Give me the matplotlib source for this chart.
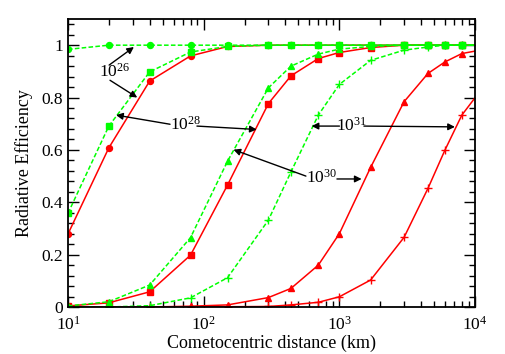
import matplotlib
matplotlib.use("Agg")
import matplotlib.pyplot as plt
from matplotlib.ticker import LogLocator, MultipleLocator, NullFormatter

plt.rcParams['font.family'] = ['Liberation Serif', 'DejaVu Serif']
plt.rcParams['mathtext.fontset'] = 'custom'
plt.rcParams['mathtext.rm'] = 'Liberation Serif'
plt.rcParams['mathtext.it'] = 'Liberation Serif:italic'

# distances (km); last point lies beyond the axis and is clipped
dist = [10, 20, 40, 80, 150, 300, 440, 700, 1000, 1700, 3000, 4500, 6000, 8000, 12000]

# red (solid) series
red_q26 = [0.279, 0.608, 0.863, 0.959, 0.995, 1.0, 1.0, 1.0, 1.0, 1.0, 1.0, 1.0, 1.0, 1.0, 1.0]
red_q28 = [0.004, 0.016, 0.058, 0.198, 0.466, 0.777, 0.883, 0.949, 0.972, 0.991, 1.0, 1.0, 1.0, 1.0, 1.0]
red_q30 = [0.0, 0.0, 0.0, 0.003, 0.008, 0.036, 0.071, 0.160, 0.280, 0.533, 0.784, 0.892, 0.936, 0.968, 0.985]
red_q31 = [0.0, 0.0, 0.0, 0.0, 0.001, 0.002, 0.008, 0.018, 0.039, 0.103, 0.266, 0.453, 0.599, 0.733, 0.853]

# green (dashed) series
grn_q26 = [0.984, 1.0, 1.0, 1.0, 1.0, 1.0, 1.0, 1.0, 1.0, 1.0, 1.0, 1.0, 1.0, 1.0, 1.0]
grn_q28 = [0.358, 0.691, 0.898, 0.974, 0.995, 1.0, 1.0, 1.0, 1.0, 1.0, 1.0, 1.0, 1.0, 1.0, 1.0]
grn_q30 = [0.004, 0.020, 0.084, 0.265, 0.557, 0.837, 0.920, 0.966, 0.985, 0.995, 1.0, 1.0, 1.0, 1.0, 1.0]
grn_q31 = [0.0, 0.0, 0.005, 0.035, 0.112, 0.332, 0.516, 0.733, 0.850, 0.942, 0.981, 0.993, 1.0, 1.0, 1.0]

RED = '#ff0000'
GREEN = '#00ff00'

fig = plt.figure(figsize=(5.06, 3.54), dpi=100)
ax = fig.add_axes([68/506, 1-307/354, (475-68)/506, (307-19)/354])

series = [
    (red_q26, RED, '-', 'o', 4.3),
    (red_q28, RED, '-', 's', 4.0),
    (red_q30, RED, '-', '^', 4.5),
    (red_q31, RED, '-', '+', 5.5),
    (grn_q26, GREEN, '--', 'o', 4.3),
    (grn_q28, GREEN, '--', 's', 4.0),
    (grn_q30, GREEN, '--', '^', 4.5),
    (grn_q31, GREEN, '--', '+', 5.5),
]
for vals, col, ls, mk, ms in series:
    ax.plot(dist, vals, color=col, ls=ls, lw=1.1, marker=mk, ms=ms,
            mfc=col, mec=col, mew=1.0, dashes=(3, 1.5) if ls == '--' else (None, None))

ax.set_xscale('log')
ax.set_xlim(10, 1e4)
ax.set_ylim(0, 1.1)
ax.set_yticks([0, 0.2, 0.4, 0.6, 0.8, 1.0])
ax.set_yticklabels(['0', '0.2', '0.4', '0.6', '0.8', '1'])
ax.yaxis.set_minor_locator(MultipleLocator(0.04))
ax.xaxis.set_major_locator(LogLocator(base=10, numticks=10))
ax.xaxis.set_minor_locator(LogLocator(base=10, subs=range(2, 10), numticks=20))
ax.xaxis.set_minor_formatter(NullFormatter())

ax.tick_params(which='both', direction='in', top=True, right=True, labelsize=12.5, width=1.0)
ax.tick_params(which='major', length=8)
ax.tick_params(which='minor', length=4)
ax.tick_params(axis='x', pad=6)
for s in ax.spines.values():
    s.set_linewidth(1.3)

ax.set_xlabel('Cometocentric distance (km)', fontsize=13, labelpad=1)
ax.set_ylabel('Radiative Efficiency', fontsize=13, labelpad=6)

tfs = 12.5
aprops = dict(arrowstyle='-|>', color='black', lw=1.0, mutation_scale=10, shrinkA=0, shrinkB=0)

# 10^26
ax.text(22.2, 0.897, r'$10^{26}$', fontsize=tfs, ha='center', va='center')
ax.annotate('', xy=(30.6, 0.993), xytext=(20.1, 0.924), arrowprops=aprops)
ax.annotate('', xy=(32.4, 0.800), xytext=(20.4, 0.866), arrowprops=aprops)
# 10^28
ax.text(74.1, 0.695, r'$10^{28}$', fontsize=tfs, ha='center', va='center')
ax.annotate('', xy=(22.6, 0.733), xytext=(56.5, 0.698), arrowprops=aprops)
ax.annotate('', xy=(245.9, 0.678), xytext=(89.2, 0.691), arrowprops=aprops)
# 10^30
ax.text(744, 0.492, r'$10^{30}$', fontsize=tfs, ha='center', va='center')
ax.annotate('', xy=(1460, 0.489), xytext=(960, 0.489), arrowprops=aprops)
ax.annotate('', xy=(165.8, 0.601), xytext=(567, 0.500), arrowprops=aprops)
# 10^31
ax.text(1228, 0.691, r'$10^{31}$', fontsize=tfs, ha='center', va='center')
ax.annotate('', xy=(625, 0.691), xytext=(1002, 0.691), arrowprops=aprops)
ax.annotate('', xy=(7111, 0.688), xytext=(1518, 0.691), arrowprops=aprops)

fig.savefig('out.png', dpi=100)
